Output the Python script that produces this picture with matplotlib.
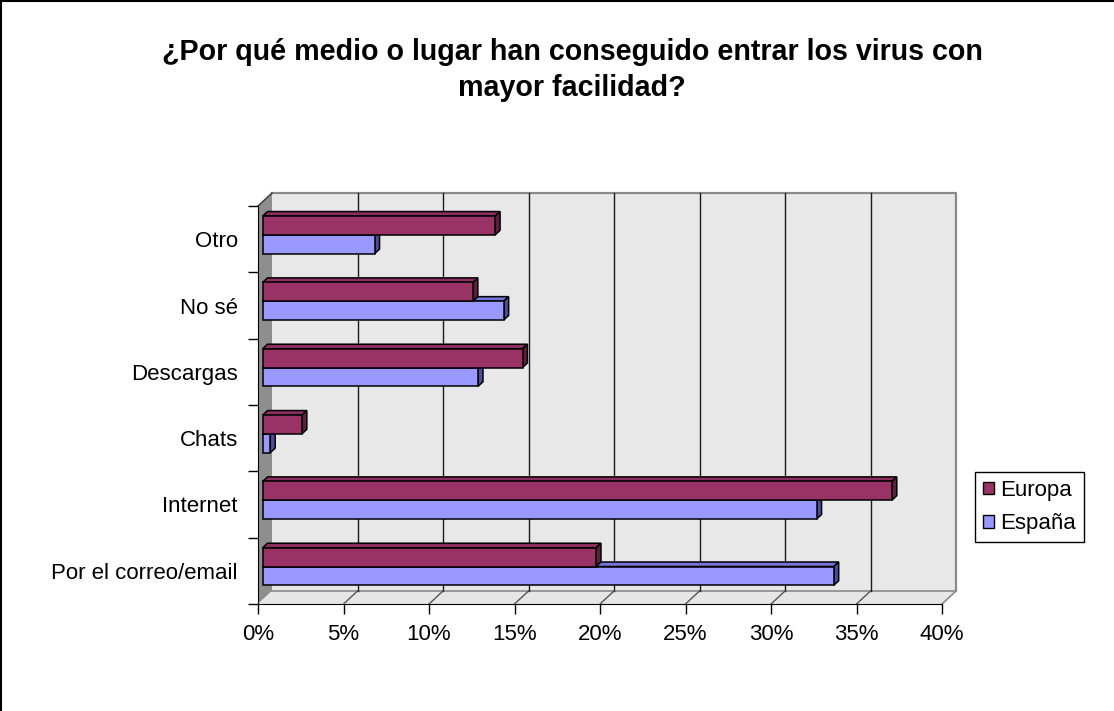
import matplotlib
matplotlib.use('Agg')
import matplotlib.pyplot as plt
from matplotlib.patches import Polygon, Patch
from matplotlib.lines import Line2D

plt.rcParams['font.family'] = ['Liberation Sans', 'DejaVu Sans']

# ---- data ----
categories = ['Por el correo/email', 'Internet', 'Chats', 'Descargas', 'No sé', 'Otro']
europa = [19.5, 36.8, 2.3, 15.2, 12.3, 13.6]
espana = [33.4, 32.4, 0.45, 12.6, 14.1, 6.55]
series_names = ['Europa', 'España']
x_ticks = [0, 5, 10, 15, 20, 25, 30, 35, 40]
x_tick_labels = ['0%', '5%', '10%', '15%', '20%', '25%', '30%', '35%', '40%']
title_lines = ['¿Por qué medio o lugar han conseguido entrar los virus con', 'mayor facilidad?']

# ---- styles ----
col_eu = {'front': '#993366', 'top': '#8c2f5e', 'side': '#5c1f3d'}
col_es = {'front': '#9999ff', 'top': '#7474d6', 'side': '#4d4d99'}
LABEL_FS = 16

W, H = 1114, 711
fig = plt.figure(figsize=(W / 100, H / 100), dpi=100)
fig.patch.set_facecolor('white')

FL, FR, FT, FB = 258, 942, 206, 604   # front plane in px
ax = fig.add_axes([FL / W, 1 - FB / H, (FR - FL) / W, (FB - FT) / H])
XMAX = x_ticks[-1]
n = len(categories)
ax.set_xlim(0, XMAX)
ax.set_ylim(0, n)
ax.patch.set_alpha(0)
px_x = (FR - FL) / XMAX
px_y = (FB - FT) / n
DX = 14 / px_x
DY = 13 / px_y

# back wall
ax.add_patch(Polygon([(DX, DY), (XMAX + DX, DY), (XMAX + DX, n + DY), (DX, n + DY)],
                     closed=True, fc='#e8e8e8', ec='none', clip_on=False, zorder=0))
ax.plot([DX, XMAX + DX, XMAX + DX], [n + DY, n + DY, DY], color='#8a8a8a', lw=1.6,
        clip_on=False, zorder=1)
# left wall
ax.add_patch(Polygon([(0, 0), (DX, DY), (DX, n + DY), (0, n)], closed=True,
                     fc='#8e8e8e', ec='none', clip_on=False, zorder=0))
ax.plot([0, DX], [n, n + DY], color='#333333', lw=1, clip_on=False, zorder=1)
# floor
ax.add_patch(Polygon([(0, 0), (XMAX, 0), (XMAX + DX, DY), (DX, DY)], closed=True,
                     fc='#e6e6e6', ec='none', clip_on=False, zorder=0))
ax.plot([DX, XMAX + DX], [DY, DY], color='#8a8a8a', lw=1.2, clip_on=False, zorder=1)
ax.plot([XMAX, XMAX + DX], [0, DY], color='#8a8a8a', lw=1.2, clip_on=False, zorder=1)
# gridlines
for t in x_ticks[1:-1]:
    ax.plot([t + DX, t + DX], [DY, n + DY], color='#1a1a1a', lw=1, clip_on=False, zorder=1)
    ax.plot([t, t + DX], [0, DY], color='#555555', lw=1, clip_on=False, zorder=1)

# bars
D0, D1 = 0.33, 0.68
h = 0.283


def bar3d(val, yb, cols, z):
    yt = yb + h
    ox0, oy0 = D0 * DX, D0 * DY
    ox1, oy1 = D1 * DX, D1 * DY
    top = [(ox0, yt + oy0), (val + ox0, yt + oy0), (val + ox1, yt + oy1), (ox1, yt + oy1)]
    side = [(val + ox0, yb + oy0), (val + ox0, yt + oy0), (val + ox1, yt + oy1), (val + ox1, yb + oy1)]
    front = [(ox0, yb + oy0), (val + ox0, yb + oy0), (val + ox0, yt + oy0), (ox0, yt + oy0)]
    for pts, c in ((top, cols['top']), (side, cols['side']), (front, cols['front'])):
        ax.add_patch(Polygon(pts, closed=True, fc=c, ec='black', lw=1.1, joinstyle='miter',
                             clip_on=False, zorder=z))


for i in range(n):
    c = i + 0.5
    bar3d(espana[i], c - h, col_es, 3 + i * 2)
    bar3d(europa[i], c, col_eu, 4 + i * 2)

# axes / ticks
for s in ('top', 'right'):
    ax.spines[s].set_visible(False)
ax.spines['left'].set_color('black')
ax.spines['bottom'].set_color('black')
ax.spines['left'].set_zorder(2)
ax.spines['bottom'].set_zorder(2)
ax.set_xticks(x_ticks, x_tick_labels)
ax.set_yticks([i + 0.5 for i in range(n)], categories)
ax.set_yticks(range(n + 1), minor=True)
ax.tick_params(axis='x', length=7, width=1, color='black', direction='out', pad=7.5,
               labelsize=LABEL_FS)
ax.tick_params(axis='y', which='major', length=0, pad=14.5, labelsize=LABEL_FS)
ax.tick_params(axis='y', which='minor', length=7, width=1, color='black', direction='out')

# title
fig.text(572 / W, 1 - 52 / H, title_lines[0], ha='center', va='center', fontsize=20.6,
         fontweight='bold')
fig.text(572 / W, 1 - 88 / H, title_lines[1], ha='center', va='center', fontsize=20.6,
         fontweight='bold')

# legend
handles = [Patch(fc=col_eu['front'], ec='black', label=series_names[0]),
           Patch(fc=col_es['front'], ec='black', label=series_names[1])]
leg = fig.legend(handles=handles, loc='center left', bbox_to_anchor=(975 / W, 1 - 507 / H),
                 frameon=True, fancybox=False, edgecolor='black', framealpha=1,
                 handlelength=0.5, handleheight=0.5, handletextpad=0.3, borderpad=0.35,
                 labelspacing=0.55, fontsize=LABEL_FS, borderaxespad=0)
leg.get_frame().set_linewidth(1)

# outer border
fig.add_artist(Line2D([0.5 / W, 0.5 / W], [0, 1], color='black', lw=1.5))
fig.add_artist(Line2D([0, 1], [1 - 0.5 / H, 1 - 0.5 / H], color='black', lw=1.5))

fig.savefig('out.png', dpi=100)
